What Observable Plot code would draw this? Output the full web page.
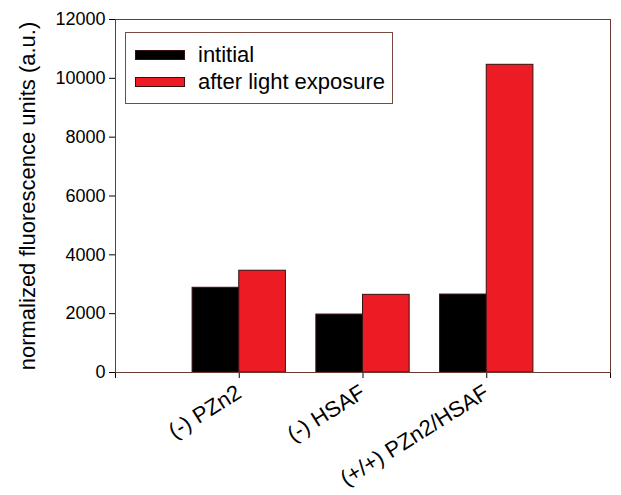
<!DOCTYPE html>
<html><head><meta charset="utf-8">
<script src="https://cdn.jsdelivr.net/npm/d3@7"></script>
<script src="https://cdn.jsdelivr.net/npm/@observablehq/plot@0.6"></script>
<style>
body{margin:0;background:#fff;font-family:"Liberation Sans",Arial,sans-serif;}
#wrap{position:relative;width:621px;height:495px;}
#legend{position:absolute;left:125px;top:32px;width:268px;height:72px;border:1px solid #7a4a40;box-sizing:border-box;background:#fff;font-size:22px;color:#000;}
.sw{position:absolute;left:9px;width:50px;height:10px;box-sizing:border-box;border:1px solid #3a1010;}
.lt{position:absolute;left:72px;line-height:24px;}
</style></head><body><div id="wrap"><div id="legend"></div></div>
<script>
const categories = ["(-) PZn2", "(-) HSAF", "(+/+) PZn2/HSAF"];
const series = ["intitial", "after light exposure"];
const initialValues = [2880, 1970, 2650];
const afterLightValues = [3460, 2640, 10460];
const yTicks = [0, 2000, 4000, 6000, 8000, 10000, 12000];
const xTickPositions = [0, 1, 2, 3, 4];
const categoryPositions = [1, 2, 3];
const colors = ["#000000", "#ed1c24"];

const data = [];
categories.forEach((c, i) => {
  data.push({cat: c, pos: i + 1, series: series[0], value: initialValues[i], side: -1});
  data.push({cat: c, pos: i + 1, series: series[1], value: afterLightValues[i], side: 1});
});
const barW = 0.377;

const chart = Plot.plot({
  width: 621, height: 495,
  marginLeft: 115, marginRight: 11, marginTop: 19, marginBottom: 123,
  style: {fontFamily: "'Liberation Sans', Arial, sans-serif", fontSize: "18px", color: "#000", background: "#fff"},
  x: {domain: [0, 4]},
  y: {domain: [0, 12000]},
  color: {domain: series, range: colors},
  marks: [
    Plot.rectY(data, {
      x1: d => d.side < 0 ? d.pos - barW : d.pos,
      x2: d => d.side < 0 ? d.pos : d.pos + barW,
      y: "value", fill: "series", stroke: "#3a1010", strokeWidth: 1
    }),
    Plot.axisY({ticks: yTicks, tickSize: 6, tickPadding: 4, tickFormat: d => String(d), label: null}),
    Plot.axisY({ticks: [], label: "normalized fluorescence units (a.u.)", labelAnchor: "center", labelArrow: "none", labelOffset: 96, fontSize: 22}),
    Plot.axisX({ticks: xTickPositions, tickSize: 6, tickFormat: () => "", label: null}),
    Plot.axisX({ticks: categoryPositions, tickFormat: d => categories[d - 1], tickRotate: -32, tickSize: 0, tickPadding: 18, dx: 0, fontSize: 22, label: null}),
    Plot.frame({stroke: "#6b3a30"})
  ]
});
document.getElementById("wrap").prepend(chart);

const legend = document.getElementById("legend");
series.forEach((s, i) => {
  const sw = document.createElement("div");
  sw.className = "sw";
  sw.style.top = (17 + i * 27) + "px";
  sw.style.background = colors[i];
  legend.appendChild(sw);
  const t = document.createElement("div");
  t.className = "lt";
  t.style.top = (10 + i * 27) + "px";
  t.textContent = s;
  legend.appendChild(t);
});
</script>
</body></html>
